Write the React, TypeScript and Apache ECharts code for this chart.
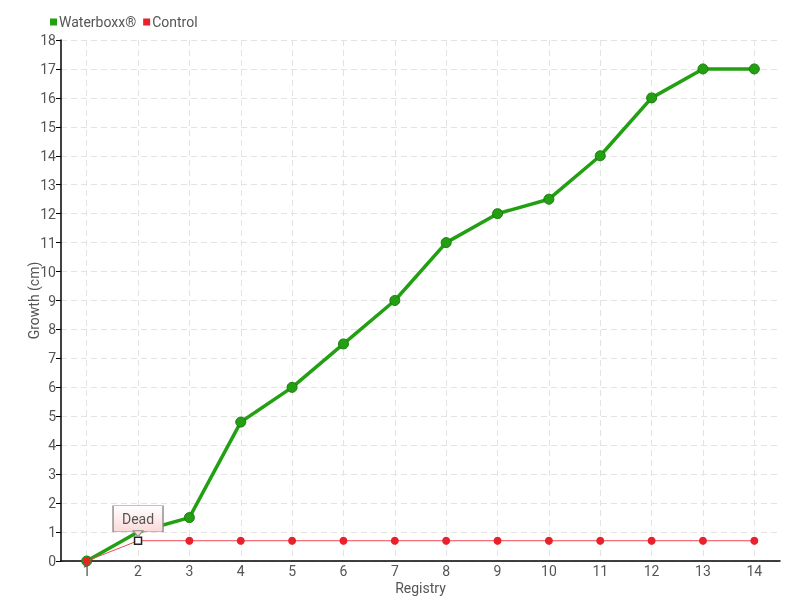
import React, { useEffect, useRef } from "react";
import * as echarts from "echarts";

const categories = ["1", "2", "3", "4", "5", "6", "7", "8", "9", "10", "11", "12", "13", "14"];
const waterboxx = [0, 1.0, 1.5, 4.8, 6.0, 7.5, 9.0, 11.0, 12.0, 12.5, 14.0, 16.0, 17.0, 17.0];
const control = [0, 0.7, 0.7, 0.7, 0.7, 0.7, 0.7, 0.7, 0.7, 0.7, 0.7, 0.7, 0.7, 0.7];
const deadIndex = 1;
const deadLabel = "Dead";

const FONT = "Roboto, sans-serif";

export default function App() {
  const ref = useRef<HTMLDivElement>(null);
  useEffect(() => {
    if (!ref.current) return;
    const chart = echarts.init(ref.current, undefined, { renderer: "svg" });
    const controlData = control.map((v, i) =>
      i === deadIndex
        ? {
            value: v,
            symbol: "rect",
            symbolSize: 7,
            itemStyle: { color: "#ffffff", borderColor: "#222222", borderWidth: 1.5 },
          }
        : v
    );
    const waterData = waterboxx.map((v, i) =>
      i === deadIndex ? { value: v, symbol: "none" } : v
    );
    chart.setOption({
      animation: false,
      textStyle: { fontFamily: FONT, color: "#555" },
      legend: {
        left: 45,
        top: 10,
        itemWidth: 7,
        itemHeight: 7,
        itemGap: 7,
        icon: "rect",
        itemStyle: { borderWidth: 0 },
        textStyle: { fontFamily: FONT, fontSize: 14, color: "#555", padding: [0, 0, 0, -3] },
        data: ["Waterboxx®", "Control"],
      },
      grid: { left: 61, right: 20, top: 40, bottom: 36 },
      xAxis: {
        type: "category",
        data: categories,
        boundaryGap: true,
        name: "Registry",
        nameLocation: "middle",
        nameGap: 20,
        nameMoveOverlap: false,
        nameTextStyle: { fontFamily: FONT, fontSize: 14, color: "#555" },
        axisLine: { lineStyle: { color: "#000", width: 1.5 } },
        axisTick: { alignWithLabel: true, length: 5, lineStyle: { color: "#000" } },
        axisLabel: { fontFamily: FONT, fontSize: 14, color: "#555", margin: 3 },
        splitLine: { show: true, alignWithLabel: true, lineStyle: { color: "#e3e3e3", type: [6, 4] } },
      },
      yAxis: {
        type: "value",
        min: 0,
        max: 18,
        interval: 1,
        name: "Growth (cm)",
        nameLocation: "middle",
        nameGap: 20,
        nameMoveOverlap: false,
        nameTextStyle: { fontFamily: FONT, fontSize: 14, color: "#555" },
        axisLine: { show: true, lineStyle: { color: "#000", width: 1.5 } },
        axisTick: { show: true, length: 5, lineStyle: { color: "#000" } },
        axisLabel: { fontFamily: FONT, fontSize: 14, color: "#555", margin: 5 },
        splitLine: { show: true, lineStyle: { color: "#e3e3e3", type: [6, 4] } },
      },
      series: [
        {
          name: "Waterboxx®",
          type: "line",
          data: waterData,
          symbol: "circle",
          symbolSize: 10,
          color: "#22a012",
          lineStyle: { color: "#22a012", width: 3.5 },
          itemStyle: { color: "#22a012", borderColor: "#1a7a0c", borderWidth: 1 },
          z: 2,
        },
        {
          name: "Control",
          type: "line",
          data: controlData,
          symbol: "circle",
          symbolSize: 8,
          color: "#e8212c",
          lineStyle: { color: "#ee4a52", width: 1 },
          itemStyle: { color: "#e8212c" },
          z: 3,
          markPoint: {
            z: 10,
            data: [
              {
                coord: [deadIndex, control[deadIndex]],
                symbol: "rect",
                symbolSize: [50, 26],
                symbolOffset: [0, -22],
                itemStyle: {
                  color: {
                    type: "linear",
                    x: 0,
                    y: 0,
                    x2: 0,
                    y2: 1,
                    colorStops: [
                      { offset: 0, color: "#ffffff" },
                      { offset: 1, color: "#fcd9da" },
                    ],
                  },
                  borderColor: "#888",
                  borderWidth: 1,
                },
                label: {
                  show: true,
                  formatter: deadLabel,
                  position: "inside",
                  fontFamily: FONT,
                  fontSize: 14,
                  color: "#555",
                },
              },
              {
                coord: [deadIndex, control[deadIndex]],
                symbol: "triangle",
                symbolRotate: 180,
                symbolSize: [10, 6],
                symbolOffset: [0, -7],
                itemStyle: { color: "#fcd9da", borderColor: "#888", borderWidth: 1 },
                label: { show: false },
              },
            ],
          },
        },
      ],
    });
    return () => chart.dispose();
  }, []);
  return (
    <div
      ref={ref}
      style={{ position: "fixed", left: 0, top: 0, width: 800, height: 600 }}
    />
  );
}
